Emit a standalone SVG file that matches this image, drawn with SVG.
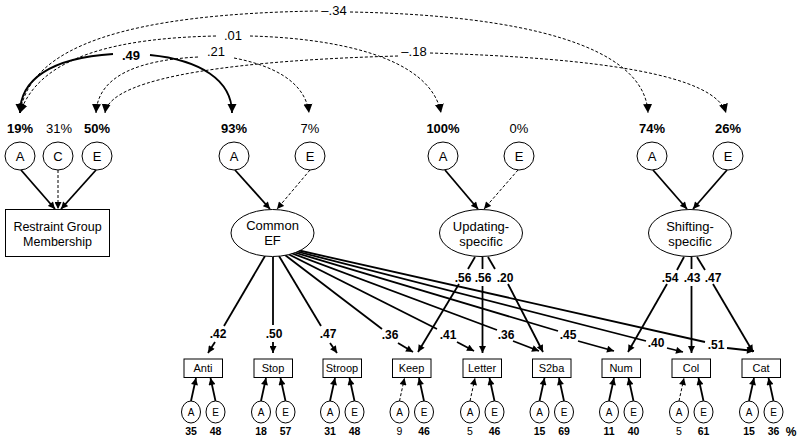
<svg xmlns="http://www.w3.org/2000/svg" width="800" height="442" viewBox="0 0 800 442">
<style>
text{font-family:"Liberation Sans",Arial,sans-serif;fill:#000;text-anchor:middle}
.b{font-weight:bold}
.p{font-size:13px}
.n{fill:#fff;stroke:#000;stroke-width:1}
.s{fill:none;stroke:#000;stroke-width:1.8}
.d{fill:none;stroke:#000;stroke-width:1;stroke-dasharray:3,2}
.sm{font-size:10px}
.bx{font-size:11px}
.ld{font-size:12px;font-weight:bold}
.vc{font-size:10.5px}
.mk{fill:#000;stroke:none}
</style>
<defs>
<marker id="ah" viewBox="0 0 10 10" refX="10" refY="5" markerWidth="8" markerHeight="7" markerUnits="userSpaceOnUse" orient="auto"><path class="mk" d="M0,0L10,5L0,10z"/></marker>
<marker id="big" viewBox="0 0 10 10" refX="10" refY="5" markerWidth="9" markerHeight="11" markerUnits="userSpaceOnUse" orient="auto"><path class="mk" d="M0,0L10,5L0,10z"/></marker>
</defs>

<g id="connectors">
<!-- top correlation arcs -->
<path class="s" d="M113,54 C50,58 20,80 20,113" marker-end="url(#big)"/>
<path class="s" d="M150,55 C200,60 232,80 232,113" marker-end="url(#big)"/>
<path class="d" d="M318,11 C130,14 30,45 20,113" marker-end="url(#big)"/>
<path class="d" d="M350,12 C520,15 645,45 648,113" marker-end="url(#big)"/>
<path class="d" d="M216,36 C120,38 40,55 20,113" marker-end="url(#big)"/>
<path class="d" d="M250,36 C330,38 430,55 441,113" marker-end="url(#big)"/>
<path class="d" d="M198,57 C140,60 98,75 96,113" marker-end="url(#big)"/>
<path class="d" d="M234,58 C270,65 305,80 309,113" marker-end="url(#big)"/>
<path class="d" d="M398,56 C250,60 110,75 105,113" marker-end="url(#big)"/>
<path class="d" d="M430,53 C600,58 715,75 726,113" marker-end="url(#big)"/>

<!-- ACE to latent -->
<line class="s" x1="21" y1="170" x2="55" y2="209" marker-end="url(#ah)"/>
<line class="d" x1="58" y1="170" x2="58" y2="209" marker-end="url(#ah)"/>
<line class="s" x1="96" y1="170" x2="61" y2="209" marker-end="url(#ah)"/>
<line class="s" x1="235" y1="170" x2="270" y2="209" marker-end="url(#ah)"/>
<line class="d" x1="310" y1="170" x2="277" y2="209" marker-end="url(#ah)"/>
<line class="s" x1="445" y1="170" x2="478" y2="209" marker-end="url(#ah)"/>
<line class="d" x1="518" y1="170" x2="484" y2="209" marker-end="url(#ah)"/>
<line class="s" x1="653" y1="170" x2="687" y2="209" marker-end="url(#ah)"/>
<line class="s" x1="727" y1="170" x2="693" y2="209" marker-end="url(#ah)"/>

<!-- Common EF loadings -->
<line class="s" x1="265" y1="256" x2="224" y2="326"/>
<line class="s" x1="273" y1="257" x2="273" y2="325"/>
<line class="s" x1="279" y1="256" x2="321" y2="326"/>
<line class="s" x1="285" y1="255" x2="382" y2="329"/>
<line class="s" x1="288" y1="254" x2="437" y2="329"/>
<line class="s" x1="291" y1="253" x2="497" y2="330"/>
<line class="s" x1="293" y1="252" x2="558" y2="331"/>
<line class="s" x1="295" y1="251" x2="646" y2="341"/>
<line class="s" x1="297" y1="250" x2="705" y2="342"/>
<line class="s" x1="215" y1="342" x2="208" y2="353" marker-end="url(#ah)"/>
<line class="s" x1="273" y1="342" x2="273" y2="353" marker-end="url(#ah)"/>
<line class="s" x1="330" y1="343" x2="337" y2="353" marker-end="url(#ah)"/>
<line class="s" x1="398" y1="343" x2="413" y2="352" marker-end="url(#ah)"/>
<line class="s" x1="457" y1="342" x2="474" y2="351" marker-end="url(#ah)"/>
<line class="s" x1="513" y1="341" x2="539" y2="351" marker-end="url(#ah)"/>
<line class="s" x1="578" y1="341" x2="614" y2="351" marker-end="url(#ah)"/>
<line class="s" x1="667" y1="348" x2="683" y2="352" marker-end="url(#ah)"/>
<line class="s" x1="727" y1="348" x2="754" y2="351" marker-end="url(#ah)"/>

<!-- Updating loadings -->
<line class="s" x1="475" y1="257" x2="468" y2="269"/>
<line class="s" x1="482.5" y1="257" x2="482.5" y2="269"/>
<line class="s" x1="488" y1="257" x2="495" y2="269"/>
<line class="s" x1="459" y1="284" x2="418" y2="352" marker-end="url(#ah)"/>
<line class="s" x1="482.5" y1="286" x2="482.5" y2="353" marker-end="url(#ah)"/>
<line class="s" x1="508" y1="284" x2="543" y2="352" marker-end="url(#ah)"/>

<!-- Shifting loadings -->
<line class="s" x1="684" y1="257" x2="677" y2="270"/>
<line class="s" x1="691.5" y1="257" x2="691.5" y2="269"/>
<line class="s" x1="697" y1="257" x2="705" y2="270"/>
<line class="s" x1="667" y1="284" x2="628" y2="352" marker-end="url(#ah)"/>
<line class="s" x1="691.5" y1="286" x2="691.5" y2="353" marker-end="url(#ah)"/>
<line class="s" x1="713" y1="284" x2="753" y2="352" marker-end="url(#ah)"/>

<!-- indicator ACE arrows -->
<line class="s" x1="191" y1="401" x2="196" y2="378" marker-end="url(#ah)"/>
<line class="s" x1="215.5" y1="401" x2="210.5" y2="378" marker-end="url(#ah)"/>
<line class="s" x1="261" y1="401" x2="266" y2="378" marker-end="url(#ah)"/>
<line class="s" x1="285.5" y1="401" x2="280.5" y2="378" marker-end="url(#ah)"/>
<line class="s" x1="330" y1="401" x2="335" y2="378" marker-end="url(#ah)"/>
<line class="s" x1="354.5" y1="401" x2="349.5" y2="378" marker-end="url(#ah)"/>
<line class="d" x1="399.5" y1="401" x2="404.5" y2="378" marker-end="url(#ah)"/>
<line class="s" x1="424" y1="401" x2="419" y2="378" marker-end="url(#ah)"/>
<line class="d" x1="470" y1="401" x2="475" y2="378" marker-end="url(#ah)"/>
<line class="s" x1="494.5" y1="401" x2="489.5" y2="378" marker-end="url(#ah)"/>
<line class="s" x1="539.5" y1="401" x2="544.5" y2="378" marker-end="url(#ah)"/>
<line class="s" x1="564" y1="401" x2="559" y2="378" marker-end="url(#ah)"/>
<line class="s" x1="609" y1="401" x2="614" y2="378" marker-end="url(#ah)"/>
<line class="s" x1="633.5" y1="401" x2="628.5" y2="378" marker-end="url(#ah)"/>
<line class="d" x1="679" y1="401" x2="684" y2="378" marker-end="url(#ah)"/>
<line class="s" x1="703.5" y1="401" x2="698.5" y2="378" marker-end="url(#ah)"/>
<line class="s" x1="749" y1="401" x2="754" y2="378" marker-end="url(#ah)"/>
<line class="s" x1="773.5" y1="401" x2="768.5" y2="378" marker-end="url(#ah)"/>
</g>

<g id="connector-labels">
<text class="p" x="334" y="15">–.34</text>
<text class="p" x="233" y="40">.01</text>
<text class="p b" x="131" y="60">.49</text>
<text class="p" x="216" y="56">.21</text>
<text class="p" x="414" y="56">–.18</text>
<text class="ld" x="218" y="338">.42</text>
<text class="ld" x="274" y="338">.50</text>
<text class="ld" x="328" y="338">.47</text>
<text class="ld" x="390" y="339">.36</text>
<text class="ld" x="448" y="339">.41</text>
<text class="ld" x="506" y="339">.36</text>
<text class="ld" x="568" y="339">.45</text>
<text class="ld" x="656" y="347">.40</text>
<text class="ld" x="716" y="349">.51</text>
<text class="ld" x="463" y="282">.56</text>
<text class="ld" x="483" y="282">.56</text>
<text class="ld" x="505" y="282">.20</text>
<text class="ld" x="670" y="282">.54</text>
<text class="ld" x="692" y="282">.43</text>
<text class="ld" x="713" y="282">.47</text>
</g>

<g id="restraint-A"><ellipse class="n" cx="20" cy="156" rx="15" ry="14"/><text class="p" x="20" y="161">A</text><text class="p b" x="20" y="133">19%</text></g>
<g id="restraint-C"><ellipse class="n" cx="58" cy="156" rx="15" ry="14"/><text class="p" x="58" y="161">C</text><text class="p" x="59" y="133">31%</text></g>
<g id="restraint-E"><ellipse class="n" cx="97" cy="156" rx="15" ry="14"/><text class="p" x="97" y="161">E</text><text class="p b" x="97" y="133">50%</text></g>
<g id="restraint"><rect class="n" x="5.5" y="209.5" width="104" height="47"/><text x="57.5" y="231" style="font-size:12.5px">Restraint Group</text><text x="57.5" y="246" style="font-size:12.5px">Membership</text></g>

<g id="commonEF-A"><ellipse class="n" cx="234" cy="156" rx="15" ry="14"/><text class="p" x="234" y="161">A</text><text class="p b" x="234" y="133">93%</text></g>
<g id="commonEF-E"><ellipse class="n" cx="310" cy="156" rx="15" ry="14"/><text class="p" x="310" y="161">E</text><text class="p" x="310" y="133">7%</text></g>
<g id="commonEF"><ellipse class="n" cx="272.5" cy="233" rx="41.5" ry="23.5"/><text class="p" x="272.5" y="230">Common</text><text class="p" x="272.5" y="245">EF</text></g>

<g id="updating-A"><ellipse class="n" cx="443" cy="156" rx="15" ry="14"/><text class="p" x="443" y="161">A</text><text class="p b" x="443" y="133">100%</text></g>
<g id="updating-E"><ellipse class="n" cx="519" cy="156" rx="15" ry="14"/><text class="p" x="519" y="161">E</text><text class="p" x="519" y="133">0%</text></g>
<g id="updating"><ellipse class="n" cx="481" cy="233" rx="41.5" ry="23.5"/><text class="p" x="481" y="231">Updating-</text><text class="p" x="481" y="246">specific</text></g>

<g id="shifting-A"><ellipse class="n" cx="652" cy="156" rx="15" ry="14"/><text class="p" x="652" y="161">A</text><text class="p b" x="652" y="133">74%</text></g>
<g id="shifting-E"><ellipse class="n" cx="728" cy="156" rx="15" ry="14"/><text class="p" x="728" y="161">E</text><text class="p b" x="728" y="133">26%</text></g>
<g id="shifting"><ellipse class="n" cx="690" cy="233" rx="41.5" ry="23.5"/><text class="p" x="690" y="231">Shifting-</text><text class="p" x="690" y="246">specific</text></g>

<g id="anti"><rect class="n" x="184" y="359" width="38.5" height="18.5"/><text class="bx" x="203" y="372">Anti</text>
<ellipse class="n" cx="191" cy="412" rx="9.5" ry="11"/><text class="sm" x="191" y="416">A</text><ellipse class="n" cx="215.5" cy="412" rx="9.5" ry="11"/><text class="sm" x="215.5" y="416">E</text>
<text class="vc b" x="191" y="435">35</text><text class="vc b" x="215.5" y="435">48</text></g>
<g id="stop"><rect class="n" x="254" y="359" width="38.5" height="18.5"/><text class="bx" x="273" y="372">Stop</text>
<ellipse class="n" cx="261" cy="412" rx="9.5" ry="11"/><text class="sm" x="261" y="416">A</text><ellipse class="n" cx="285.5" cy="412" rx="9.5" ry="11"/><text class="sm" x="285.5" y="416">E</text>
<text class="vc b" x="261" y="435">18</text><text class="vc b" x="285.5" y="435">57</text></g>
<g id="stroop"><rect class="n" x="323" y="359" width="38.5" height="18.5"/><text class="bx" x="342" y="372">Stroop</text>
<ellipse class="n" cx="330" cy="412" rx="9.5" ry="11"/><text class="sm" x="330" y="416">A</text><ellipse class="n" cx="354.5" cy="412" rx="9.5" ry="11"/><text class="sm" x="354.5" y="416">E</text>
<text class="vc b" x="330" y="435">31</text><text class="vc b" x="354.5" y="435">48</text></g>
<g id="keep"><rect class="n" x="392.5" y="359" width="38.5" height="18.5"/><text class="bx" x="411.5" y="372">Keep</text>
<ellipse class="n" cx="399.5" cy="412" rx="9.5" ry="11"/><text class="sm" x="399.5" y="416">A</text><ellipse class="n" cx="424" cy="412" rx="9.5" ry="11"/><text class="sm" x="424" y="416">E</text>
<text class="vc" x="399.5" y="435">9</text><text class="vc b" x="424" y="435">46</text></g>
<g id="letter"><rect class="n" x="463" y="359" width="38.5" height="18.5"/><text class="bx" x="482" y="372">Letter</text>
<ellipse class="n" cx="470" cy="412" rx="9.5" ry="11"/><text class="sm" x="470" y="416">A</text><ellipse class="n" cx="494.5" cy="412" rx="9.5" ry="11"/><text class="sm" x="494.5" y="416">E</text>
<text class="vc" x="470" y="435">5</text><text class="vc b" x="494.5" y="435">46</text></g>
<g id="s2ba"><rect class="n" x="532.5" y="359" width="38.5" height="18.5"/><text class="bx" x="551.5" y="372">S2ba</text>
<ellipse class="n" cx="539.5" cy="412" rx="9.5" ry="11"/><text class="sm" x="539.5" y="416">A</text><ellipse class="n" cx="564" cy="412" rx="9.5" ry="11"/><text class="sm" x="564" y="416">E</text>
<text class="vc b" x="539.5" y="435">15</text><text class="vc b" x="564" y="435">69</text></g>
<g id="num"><rect class="n" x="602" y="359" width="38.5" height="18.5"/><text class="bx" x="621" y="372">Num</text>
<ellipse class="n" cx="609" cy="412" rx="9.5" ry="11"/><text class="sm" x="609" y="416">A</text><ellipse class="n" cx="633.5" cy="412" rx="9.5" ry="11"/><text class="sm" x="633.5" y="416">E</text>
<text class="vc b" x="609" y="435">11</text><text class="vc b" x="633.5" y="435">40</text></g>
<g id="col"><rect class="n" x="672" y="359" width="38.5" height="18.5"/><text class="bx" x="691" y="372">Col</text>
<ellipse class="n" cx="679" cy="412" rx="9.5" ry="11"/><text class="sm" x="679" y="416">A</text><ellipse class="n" cx="703.5" cy="412" rx="9.5" ry="11"/><text class="sm" x="703.5" y="416">E</text>
<text class="vc" x="679" y="435">5</text><text class="vc b" x="703.5" y="435">61</text></g>
<g id="cat"><rect class="n" x="742" y="359" width="38.5" height="18.5"/><text class="bx" x="761" y="372">Cat</text>
<ellipse class="n" cx="749" cy="412" rx="9.5" ry="11"/><text class="sm" x="749" y="416">A</text><ellipse class="n" cx="773.5" cy="412" rx="9.5" ry="11"/><text class="sm" x="773.5" y="416">E</text>
<text class="vc b" x="749" y="435">15</text><text class="vc b" x="773.5" y="435">36</text></g>
<text class="b" x="791" y="436" style="font-size:12px">%</text>
</svg>
